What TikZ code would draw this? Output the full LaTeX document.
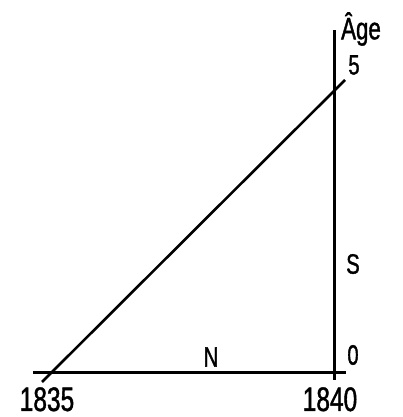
\documentclass[tikz,border=0pt]{standalone}
\usepackage{fontspec}
\newfontfamily\condsans[FakeStretch=0.72, FakeBold=1.2]{Liberation Sans}
\usepackage{tikz}
\usetikzlibrary{positioning, calc}

\begin{document}
\begin{tikzpicture}[
    x=1pt, y=1pt,
    axis/.style={line width=3pt},
    trend/.style={line width=2.6pt},
    year/.style={font=\condsans\fontsize{34}{34}\selectfont, inner sep=0pt, anchor=base},
    tag/.style={font=\condsans\fontsize{28}{28}\selectfont, inner sep=0pt}
]
\useasboundingbox (0,0) rectangle (402,417);

% ---- axes ----
\coordinate (hstart) at (33,44);
\coordinate (hend) at (346,44);
\coordinate (vtop) at (334,387);
\coordinate (vbot) at (334,37);
\draw[axis] (hstart) -- (hend);
\draw[axis] (vbot) -- (vtop);

% ---- diagonal ----
\coordinate (dstart) at (42,35);
\coordinate (dend) at (345,337);
\draw[trend] (dstart) -- (dend);

% ---- labels ----
\node[tag, font=\condsans\fontsize{31}{31}\selectfont] (age) at (361,388) {Âge};
\node[tag] (five) at (354,352) {5};
\node[tag] (ess) at (353,153) {S};
\node[tag] (zero) at (353,62) {0};
\node[tag] (enn) at (211,60) {N};
\node[year] (y1835) at (47,6) {1835};
\node[year] (y1840) at (330,6) {1840};

\end{tikzpicture}
\end{document}
